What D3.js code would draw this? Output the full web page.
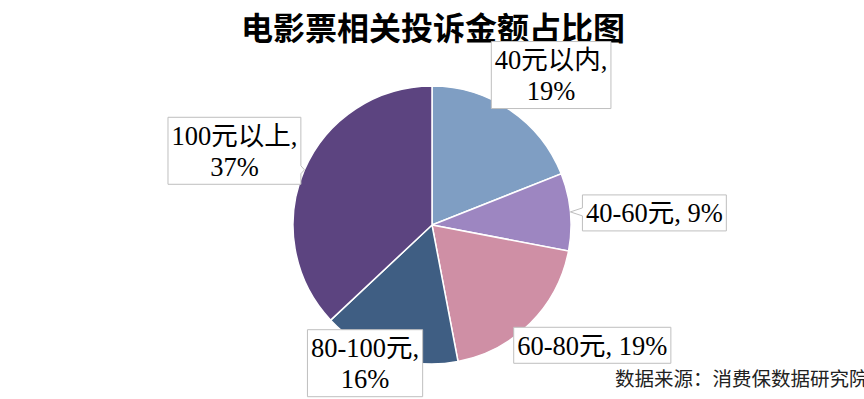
<!DOCTYPE html>
<html>
<head>
<meta charset="utf-8">
<script src="https://cdn.jsdelivr.net/npm/d3@7"></script>
<style>
  body { margin: 0; background: #fff; }
  text { font-family: "Liberation Serif", "Noto Sans CJK SC", serif; }
</style>
</head>
<body>
<div id="chart"></div>
<script>
var title = "电影票相关投诉金额占比图";
var source = "数据来源：消费保数据研究院";
var categories = ["40元以内", "40-60元", "60-80元", "80-100元", "100元以上"];
var values = [19, 9, 19, 16, 37];
var colors = ["#7f9ec3", "#9d86c1", "#cf8fa5", "#3f5e83", "#5c4480"];
// label layout: lines split, and box offset from the slice's outer point
var labelLines = [true, false, false, true, true];
var labelOffset = [[41, -35], [84, 1], [62, 22], [-24, 6], [-70, -19]];

var width = 864, height = 399;
var cx = 432, cy = 225, r = 139;
var fontSize = 26.5;

var svg = d3.select("#chart").append("svg")
  .attr("width", width)
  .attr("height", height);

svg.append("text")
  .attr("x", 433)
  .attr("y", 40)
  .attr("text-anchor", "middle")
  .style("font-size", "32px")
  .style("font-weight", "bold")
  .text(title);

var pie = d3.pie().sort(null).value(function(d) { return d; });
var arcs = pie(values);
var arc = d3.arc().innerRadius(0).outerRadius(r);

var g = svg.append("g")
  .attr("transform", "translate(" + cx + "," + cy + ")");

g.selectAll("path.slice")
  .data(arcs)
  .enter().append("path")
  .attr("class", "slice")
  .attr("d", arc)
  .attr("fill", function(d, i) { return colors[i]; })
  .attr("stroke", "#fff")
  .attr("stroke-width", 1.5);

// labels
arcs.forEach(function(d, i) {
  var mid = (d.startAngle + d.endAngle) / 2;
  var px = Math.sin(mid) * r, py = -Math.cos(mid) * r;
  var bx = px + labelOffset[i][0], by = py + labelOffset[i][1];
  var lines = labelLines[i]
    ? [categories[i] + ",", values[i] + "%"]
    : [categories[i] + ", " + values[i] + "%"];

  var lg = g.append("g");
  var box = lg.append("path")
    .attr("fill", "#fff")
    .attr("stroke", "#bfbfbf")
    .attr("stroke-width", 1);
  var lh = 31;
  var t = lg.append("text")
    .attr("text-anchor", "middle")
    .style("font-size", fontSize + "px");
  lines.forEach(function(s, j) {
    t.append("tspan")
      .attr("x", bx)
      .attr("y", by + (j - (lines.length - 1) / 2) * lh + fontSize * 0.35)
      .text(s);
  });
  var w = 0;
  t.selectAll("tspan").each(function() { w = Math.max(w, this.getComputedTextLength()); });
  var bw = w + 7, bh = lines.length * lh + 5;
  var x0 = bx - bw / 2, y0 = by - bh / 2, x1 = bx + bw / 2, y1 = by + bh / 2;

  // callout pointer if box doesn't reach the pie edge
  var p;
  if (px > x1 + 2) {
    var ty = Math.max(y0 + 4, Math.min(y1 - 4, py));
    p = "M" + x0 + "," + y0 + "H" + x1 + "V" + (ty - 4) + "L" + px + "," + py +
        "L" + x1 + "," + (ty + 4) + "V" + y1 + "H" + x0 + "Z";
  } else if (px < x0 - 2) {
    var ty2 = Math.max(y0 + 4, Math.min(y1 - 4, py));
    p = "M" + x0 + "," + y0 + "H" + x1 + "V" + y1 + "H" + x0 + "V" + (ty2 + 4) +
        "L" + px + "," + py + "L" + x0 + "," + (ty2 - 4) + "Z";
  } else {
    p = "M" + x0 + "," + y0 + "H" + x1 + "V" + y1 + "H" + x0 + "Z";
  }
  box.attr("d", p);
});

svg.append("text")
  .attr("x", 615)
  .attr("y", 386)
  .style("font-size", "19.5px")
  .style("fill", "#222")
  .text(source);
</script>
</body>
</html>
